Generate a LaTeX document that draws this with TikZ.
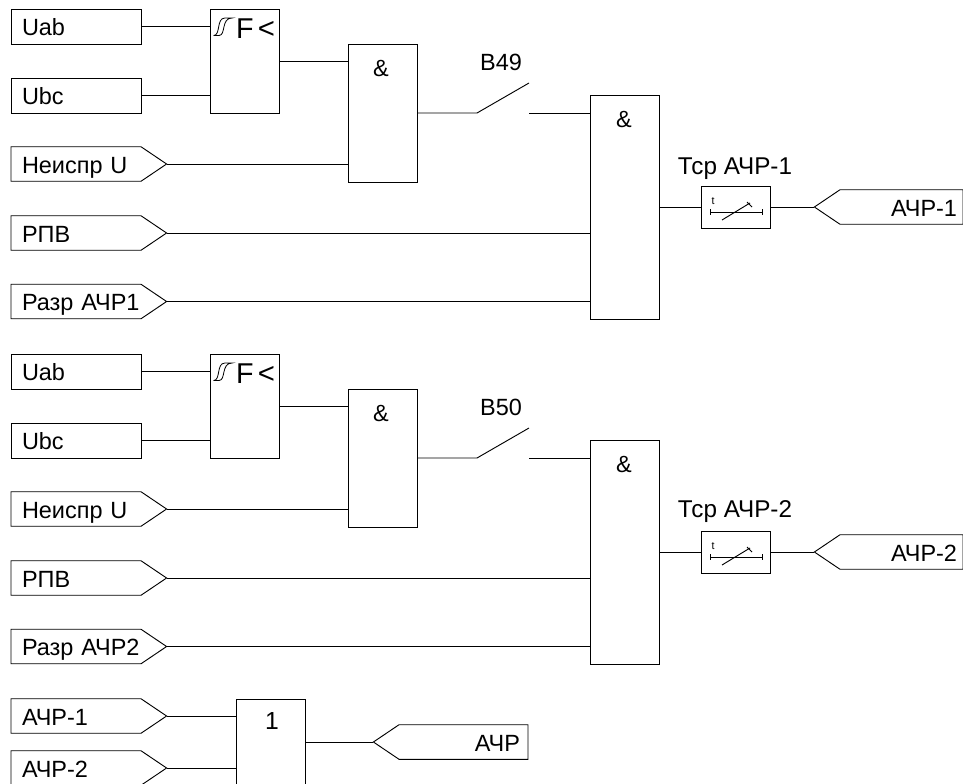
\documentclass[tikz,border=0pt]{standalone}
\usepackage{fontspec}
\setmainfont{Liberation Sans}
\usetikzlibrary{shapes.symbols}
\tikzset{
  every node/.style={font=\fontsize{17.6}{19}\selectfont, outer sep=0pt},
  conn/.style={line width=0.7pt},
  inbox/.style={draw, line width=0.7pt, rectangle, anchor=north west, minimum width=97.5pt, minimum height=26.25pt, text width=81pt, text height=13.6pt, text depth=0pt, inner xsep=8.25pt, inner ysep=0pt, align=left},
  inflag/.style={draw, line width=0.7pt, signal, signal to=east, signal pointer angle=68, anchor=west, minimum height=25.9pt, text width=81pt, text height=14pt, text depth=0pt, inner xsep=8.25pt, inner ysep=0pt, align=left},
  outflag/.style={draw, line width=0.7pt, signal, signal to=west, signal pointer angle=68, anchor=east, minimum height=25.9pt, text width=#1, text height=13.6pt, text depth=0pt, inner xsep=4.5pt, inner ysep=0pt, align=right},
  gate/.style={draw, line width=0.7pt, rectangle, anchor=north west, minimum width=51.75pt, minimum height=#1},
  gatetext/.style={anchor=center},
  relayf/.style={font=\fontsize{21.5}{23}\selectfont, inner sep=0pt},
  relaylt/.style={font=\fontsize{22}{24}\selectfont, inner sep=0pt},
  timerbox/.style={draw, line width=0.7pt, rectangle, anchor=center, minimum width=51.75pt, minimum height=31.5pt},
  timerlabel/.style={font=\fontsize{18.2}{20}\selectfont},
  timert/.style={font=\fontsize{8}{9}\selectfont, inner sep=0pt},
}
% hysteresis mark of the frequency relay
\newcommand{\hystmark}[2]{
  \draw[line width=0.6pt] (#1+0.5,#2+17.5) -- (#1+6,#2+17.5) .. controls (#1+13,#2+17.5) and (#1+8,#2+0) .. (#1+19,#2+0) -- (#1+12,#2+0) .. controls (#1+3,#2+0) and (#1+8,#2+17.5) .. (#1+0.5,#2+17.5);
}
\begin{document}
\begin{tikzpicture}[x=0.75pt,y=-0.75pt]
  \useasboundingbox (0,0) rectangle (963,783);
  \clip (0,0) rectangle (963,783);

  % first group
  \node[inbox] (uab1) at (11,9) {Uab};
  \node[inbox] (ubc1) at (11,78) {Ubc};
  \node[inflag] (neispr1) at (11,164) {Неиспр~U};
  \node[inflag] (rpv1) at (11,233) {РПВ};
  \node[inflag] (razr1) at (11,301.5) {Разр~АЧР1};
  \node[gate=78pt] (freq1) at (210,9) {};
  \node[gate=103.5pt] (and1) at (348,44) {};
  \node[gate=168pt] (all1) at (590,95) {};
  \node[timerbox] (tsr1) at (735.5,207) {};
  \node[outflag=83.25pt] (achr1) at (963,207) {АЧР-1};
  \node[relayf] (freqf1) at (245,28.5) {F};
  \node[relaylt] (freqlt1) at (266.5,30) {<};
  \node[gatetext] (amp1) at (381,68) {\&};
  \node[gatetext] (amp2) at (624,119) {\&};
  \node (b49) at (501,62) {B49};
  \node[timerlabel] (tsrlab1) at (735,169) {Тср АЧР-1};
  \node[timert] (t1) at (713,201) {t};
  \coordinate (sw1a) at (477,113);
  \coordinate (sw1b) at (529,113);
  \coordinate (sw1c) at (529,83);
  \hystmark{213}{18}
  \begin{scope}[conn]
    \draw (uab1.east) -- (uab1.east -| freq1.west);
    \draw (ubc1.east) -- (ubc1.east -| freq1.west);
    \draw (freq1.east) -- (freq1.east -| and1.west);
    \draw (neispr1.east) -- (neispr1.east -| and1.west);
    \draw (and1.east) -- (sw1a) -- (sw1c);
    \draw (sw1b) -- (sw1b -| all1.west);
    \draw (rpv1.east) -- (rpv1.east -| all1.west);
    \draw (razr1.east) -- (razr1.east -| all1.west);
    \draw (all1.east) -- (tsr1.west);
    \draw (tsr1.east) -- (achr1.east -| achr1.west);
    \draw (710,209) -- (710,215) (710,212) -- (762,212) (762,209) -- (762,215);
    \draw (722,220) -- (750,203) (747,202) -- (752,207);
  \end{scope}

  % second group
  \node[inbox] (uab2) at (11,354) {Uab};
  \node[inbox] (ubc2) at (11,423) {Ubc};
  \node[inflag] (neispr2) at (11,509) {Неиспр~U};
  \node[inflag] (rpv2) at (11,578) {РПВ};
  \node[inflag] (razr2) at (11,646.5) {Разр~АЧР2};
  \node[gate=78pt] (freq2) at (210,354) {};
  \node[gate=103.5pt] (and2) at (348,389) {};
  \node[gate=168pt] (all2) at (590,440) {};
  \node[timerbox] (tsr2) at (735.5,552) {};
  \node[outflag=83.25pt] (achr2) at (963,552) {АЧР-2};
  \node[relayf] (freqf2) at (245,373.5) {F};
  \node[relaylt] (freqlt2) at (266.5,375) {<};
  \node[gatetext] (amp3) at (381,413) {\&};
  \node[gatetext] (amp4) at (624,464) {\&};
  \node (b50) at (501,407) {B50};
  \node[timerlabel] (tsrlab2) at (735,512) {Тср АЧР-2};
  \node[timert] (t2) at (713,546) {t};
  \coordinate (sw2a) at (477,458);
  \coordinate (sw2b) at (529,458);
  \coordinate (sw2c) at (529,428);
  \hystmark{213}{363}
  \begin{scope}[conn]
    \draw (uab2.east) -- (uab2.east -| freq2.west);
    \draw (ubc2.east) -- (ubc2.east -| freq2.west);
    \draw (freq2.east) -- (freq2.east -| and2.west);
    \draw (neispr2.east) -- (neispr2.east -| and2.west);
    \draw (and2.east) -- (sw2a) -- (sw2c);
    \draw (sw2b) -- (sw2b -| all2.west);
    \draw (rpv2.east) -- (rpv2.east -| all2.west);
    \draw (razr2.east) -- (razr2.east -| all2.west);
    \draw (all2.east) -- (tsr2.west);
    \draw (tsr2.east) -- (achr2.east -| achr2.west);
    \draw (710,554) -- (710,560) (710,557) -- (762,557) (762,554) -- (762,560);
    \draw (722,565) -- (750,548) (747,547) -- (752,552);
  \end{scope}

  % output group
  \node[inflag] (achrin1) at (11,716) {АЧР-1};
  \node[inflag] (achrin2) at (11,768) {АЧР-2};
  \node[gate=64.5pt] (or1) at (236.5,699) {};
  \node[gatetext, font=\fontsize{18.5}{20}\selectfont] (one) at (272,721) {1};
  \node[outflag=84.75pt, inner xsep=6pt] (achr) at (528,742) {АЧР};
  \begin{scope}[conn]
    \draw (achrin1.east) -- (achrin1.east -| or1.west);
    \draw (achrin2.east) -- (achrin2.east -| or1.west);
    \draw (or1.east) -- (or1.east -| achr.west);
  \end{scope}
\end{tikzpicture}
\end{document}
